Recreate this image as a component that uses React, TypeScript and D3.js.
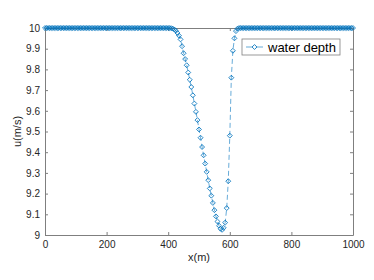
import React, { useEffect, useRef } from "react";
import * as d3 from "d3";

// grid spacing 5 m, 0..1000
const xGrid = d3.range(0, 1001, 5);

// water depth readings along the grid (0..395 flat, dip, then flat again)
const depthLeft = [
  10, 10, 10, 10, 10, 10, 10, 10, 10, 10, 10, 10, 10, 10, 10, 10, 10, 10, 10, 10,
  10, 10, 10, 10, 10, 10, 10, 10, 10, 10, 10, 10, 10, 10, 10, 10, 10, 10, 10, 10,
  10, 10, 10, 10, 10, 10, 10, 10, 10, 10, 10, 10, 10, 10, 10, 10, 10, 10, 10, 10,
  10, 10, 10, 10, 10, 10, 10, 10, 10, 10, 10, 10, 10, 10, 10, 10, 10, 10, 10, 10,
];
const depthDip = [
  10, 10, 9.999, 9.997, 9.993, 9.986, 9.976, 9.963, 9.945, 9.912,
  9.878, 9.85, 9.82, 9.785, 9.75, 9.715, 9.675, 9.635, 9.595, 9.555,
  9.51, 9.47, 9.425, 9.385, 9.345, 9.305, 9.265, 9.225, 9.19, 9.155,
  9.12, 9.09, 9.065, 9.045, 9.03, 9.025, 9.035, 9.06, 9.13, 9.26,
  9.48, 9.76, 9.89, 9.95, 9.985, 9.997,
];
const depthRight = [
  10, 10, 10, 10, 10, 10, 10, 10, 10, 10, 10, 10, 10, 10, 10, 10, 10, 10, 10, 10,
  10, 10, 10, 10, 10, 10, 10, 10, 10, 10, 10, 10, 10, 10, 10, 10, 10, 10, 10, 10,
  10, 10, 10, 10, 10, 10, 10, 10, 10, 10, 10, 10, 10, 10, 10, 10, 10, 10, 10, 10,
  10, 10, 10, 10, 10, 10, 10, 10, 10, 10, 10, 10, 10, 10, 10,
];
const depth = [...depthLeft, ...depthDip, ...depthRight];

const xTicks = [0, 200, 400, 600, 800, 1000];
const yTicks = [9, 9.1, 9.2, 9.3, 9.4, 9.5, 9.6, 9.7, 9.8, 9.9, 10];
const seriesName = "water depth";

const W = 374;
const H = 280;
const margin = { top: 28, right: 21, bottom: 45, left: 45 };
const blue = "#0072BD";
const axisColor = "#7f7f7f";
const textColor = "#262626";
const font = "'Liberation Sans', Arial, sans-serif";

export default function App() {
  const svgRef = useRef<SVGSVGElement>(null);

  useEffect(() => {
    const svg = d3.select(svgRef.current);
    svg.selectAll("*").remove();

    const x = d3.scaleLinear().domain([0, 1000]).range([margin.left, W - margin.right]);
    const y = d3.scaleLinear().domain([9, 10]).range([H - margin.bottom, margin.top]);
    const data = xGrid.map((v, i) => ({ x: v, y: depth[i] })).filter((d) => d.y !== undefined);

    svg.append("rect").attr("width", W).attr("height", H).attr("fill", "#fff");

    // axes
    const fmt = (d: number) => String(+d.toFixed(1));
    const bottom = svg
      .append("g")
      .attr("transform", `translate(0,${H - margin.bottom})`)
      .call(d3.axisBottom(x).tickValues(xTicks).tickFormat(fmt as any).tickSizeInner(-3).tickSizeOuter(0).tickPadding(6));
    const left = svg
      .append("g")
      .attr("transform", `translate(${margin.left},0)`)
      .call(d3.axisLeft(y).tickValues(yTicks).tickFormat(fmt as any).tickSizeInner(-3).tickSizeOuter(0).tickPadding(5));
    const top = svg
      .append("g")
      .attr("transform", `translate(0,${margin.top})`)
      .call(d3.axisTop(x).tickValues(xTicks).tickSizeInner(-3).tickSizeOuter(0).tickFormat(() => ""));
    const right = svg
      .append("g")
      .attr("transform", `translate(${W - margin.right},0)`)
      .call(d3.axisRight(y).tickValues(yTicks).tickSizeInner(-3).tickSizeOuter(0).tickFormat(() => ""));

    [bottom, left, top, right].forEach((g) => {
      g.selectAll("path").attr("stroke", axisColor).attr("stroke-width", 1);
      g.selectAll("line").attr("stroke", axisColor).attr("stroke-width", 1);
      g.selectAll("text").attr("fill", textColor).attr("font-family", font).attr("font-size", 10);
    });

    svg
      .append("text")
      .attr("x", (margin.left + W - margin.right) / 2)
      .attr("y", 261)
      .attr("text-anchor", "middle")
      .attr("font-family", font)
      .attr("font-size", 11)
      .attr("fill", textColor)
      .text("x(m)");

    svg
      .append("text")
      .attr("transform", `translate(21,${(margin.top + H - margin.bottom) / 2}) rotate(-90)`)
      .attr("text-anchor", "middle")
      .attr("font-family", font)
      .attr("font-size", 11)
      .attr("fill", textColor)
      .text("u(m/s)");

    // series
    const line = d3
      .line<{ x: number; y: number }>()
      .x((d) => x(d.x))
      .y((d) => y(d.y));

    svg
      .append("path")
      .datum(data)
      .attr("fill", "none")
      .attr("stroke", blue)
      .attr("stroke-width", 0.6)
      .attr("stroke-dasharray", "5,3")
      .attr("d", line);

    const diamond = d3.symbol().type(d3.symbolSquare).size(12);

    svg
      .append("g")
      .selectAll("path")
      .data(data)
      .join("path")
      .attr("d", diamond)
      .attr("transform", (d) => `translate(${x(d.x)},${y(d.y)}) rotate(45)`)
      .attr("fill", "none")
      .attr("stroke", blue)
      .attr("stroke-width", 0.8);

    // legend
    const lg = svg.append("g").attr("transform", "translate(242,39)");
    lg.append("rect")
      .attr("width", 98)
      .attr("height", 16)
      .attr("fill", "#fff")
      .attr("stroke", axisColor)
      .attr("stroke-width", 0.8);
    lg.append("line")
      .attr("x1", 4)
      .attr("x2", 21)
      .attr("y1", 8)
      .attr("y2", 8)
      .attr("stroke", blue)
      .attr("stroke-width", 0.6);
    lg.append("path")
      .attr("d", diamond)
      .attr("transform", "translate(12.5,8) rotate(45)")
      .attr("fill", "#fff")
      .attr("stroke", blue)
      .attr("stroke-width", 0.8);
    lg.append("text")
      .attr("x", 26)
      .attr("y", 12.5)
      .attr("font-family", font)
      .attr("font-size", 13)
      .attr("fill", "#000")
      .text(seriesName);
  }, []);

  return (
    <div style={{ position: "absolute", left: 0, top: 0, width: W, height: H }}>
      <svg ref={svgRef} width={W} height={H}></svg>
    </div>
  );
}
